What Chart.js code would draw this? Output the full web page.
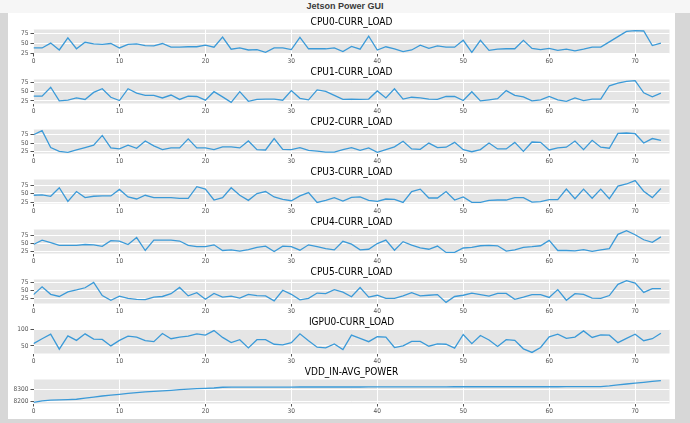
<!DOCTYPE html>
<html><head><meta charset="utf-8">
<script src="https://cdn.jsdelivr.net/npm/chart.js@4.4.1/dist/chart.umd.min.js"></script>
<style>
html,body{margin:0;padding:0;width:690px;height:423px;overflow:hidden;background:#d7d7d7;}
#bar{position:absolute;left:0;top:0;width:690px;height:13px;background:#f6f6f6;font:bold 9px "Liberation Sans Narrow","Liberation Sans",sans-serif;color:#3a3a3a;text-align:center;line-height:13px;}
#panel{position:absolute;left:8px;top:13px;width:667px;height:406px;background:#fff;}
canvas{position:absolute;left:8px;}
</style></head><body>
<div id="bar">Jetson Power GUI</div>
<div id="panel"></div>
<script>
// ---- data (sample index 0..73) ----
const titles = ["CPU0-CURR_LOAD","CPU1-CURR_LOAD","CPU2-CURR_LOAD","CPU3-CURR_LOAD","CPU4-CURR_LOAD","CPU5-CURR_LOAD","IGPU0-CURR_LOAD","VDD_IN-AVG_POWER"];
const cpu0 = [38,38,50,33,63,36,52,48,47,49, 38,47,48,44,43,49,40,40,41,41, 45,40,65,35,38,33,34,27,38,38, 34,64,36,36,36,38,29,42,35,67, 33,41,36,29,33,45,37,43,40,40, 57,27,57,32,35,36,36,57,37,34, 37,32,35,31,35,40,40,53,66,79, 81,80,44,50];
const cpu1 = [38,38,62,25,27,33,29,48,58,35, 26,58,46,40,40,33,41,29,38,37, 27,50,36,21,50,24,29,30,30,27, 53,32,28,55,51,40,29,30,29,30, 52,33,58,30,35,33,30,29,37,37, 26,50,25,28,31,53,40,36,25,28, 37,28,24,33,26,30,30,66,73,78, 80,47,36,46];
const cpu2 = [74,86,37,26,23,30,37,44,72,36, 33,44,35,56,42,31,36,36,62,36, 36,31,39,39,36,56,31,30,63,32, 31,37,29,27,24,24,31,37,29,36, 23,31,39,55,33,32,50,37,38,52, 31,25,31,50,33,33,52,26,53,52, 30,36,38,56,31,58,38,35,78,79, 77,50,63,58];
const cpu3 = [45,46,42,67,27,56,38,42,43,43, 62,40,34,45,38,38,38,36,36,70, 63,31,38,67,45,30,50,56,40,33, 29,43,53,24,30,38,28,39,40,30, 27,34,33,24,56,63,37,37,56,31, 40,24,24,30,31,31,38,38,25,26, 32,32,63,35,63,36,63,35,72,78, 88,57,38,65];
const cpu4 = [46,60,52,43,43,43,46,45,40,58, 57,46,68,27,60,60,60,57,43,39, 39,45,27,29,25,30,37,41,24,41, 39,28,45,39,33,29,56,47,29,31, 49,60,28,55,44,35,31,41,21,21, 35,37,42,43,42,25,29,37,39,42, 59,27,27,26,30,24,29,33,78,90, 77,61,53,70];
const cpu5 = [37,62,38,31,46,52,59,76,34,19, 32,25,22,21,29,31,40,60,33,43, 22,41,29,32,26,38,34,33,17,51, 38,20,25,42,40,53,45,30,60,29, 35,25,25,33,43,33,35,37,12,31, 35,42,37,32,41,41,22,29,37,37, 28,53,19,40,38,26,25,34,70,82, 74,44,56,56];
const igpu0 = [57,72,86,40,81,67,87,71,70,50, 67,80,77,66,63,88,72,77,80,87, 83,97,76,60,69,44,69,69,55,53, 60,87,66,46,44,56,39,83,73,63, 78,77,45,50,64,64,49,56,55,43, 85,57,82,68,48,69,67,41,30,45, 78,86,73,77,96,76,84,83,60,73, 86,66,72,89];
const vddIn = [8193,8205,8212,8214,8216,8219,8228,8237,8246,8253, 8260,8268,8274,8280,8284,8288,8293,8298,8303,8307, 8309,8312,8318,8319,8319,8319,8319,8319,8319,8319, 8319,8320,8320,8320,8320,8320,8320,8320,8320,8321, 8321,8321,8321,8321,8321,8321,8321,8321,8321,8322, 8322,8322,8322,8322,8322,8322,8322,8322,8322,8322, 8322,8322,8323,8323,8323,8323,8324,8330,8338,8345, 8352,8359,8366,8373];
const series = [cpu0,cpu1,cpu2,cpu3,cpu4,cpu5,igpu0,vddIn];
const yStep = [25,25,25,25,25,25,50,100];
const xTickStep = 10;
const xMax = 74;

const FONT = '"Liberation Sans Narrow","DejaVu Sans Condensed","Liberation Sans",sans-serif';
const bgPlugin = {id:'bg', beforeDraw(chart){const {ctx, chartArea:a}=chart; ctx.save(); ctx.fillStyle='#e5e5e5'; ctx.fillRect(a.left,a.top,a.right-a.left,a.bottom-a.top); ctx.restore();}};
function stepTicks(step){
  return function(s){ const t=[]; for(let v=Math.ceil(s.min/step)*step; v<=s.max+1e-9; v+=step) t.push({value:v}); s.ticks=t; };
}

series.forEach((vals, k) => {
  const cv = document.createElement('canvas');
  cv.width = 667; cv.height = 52;
  cv.style.top = (13 + 50*k) + 'px';
  document.body.appendChild(cv);
  const lo = Math.min(...vals), hi = Math.max(...vals), pad = (hi-lo)*0.05;
  new Chart(cv, {
    type: 'line',
    data: { datasets: [{ data: vals.map((v,i)=>({x:i,y:v})), borderColor:'#3b9ad8', borderWidth:1.3, pointRadius:0, tension:0, fill:false }] },
    options: {
      responsive:false, animation:false, devicePixelRatio:1,
      layout:{padding:{left:0,right:5.5,top:0,bottom:0}},
      plugins:{ legend:{display:false}, tooltip:{enabled:false},
        title:{display:true, fullSize:false, text:titles[k], color:'#000', font:{family:FONT,size:10,weight:'normal',lineHeight:1.2}, padding:{top:3,bottom:1.5}} },
      scales:{
        x:{ type:'linear', min:0, max:xMax,
            afterBuildTicks: stepTicks(xTickStep),
            ticks:{color:'#555', font:{family:FONT,size:6.5}, padding:1, maxRotation:0, autoSkip:false, callback:v=>String(v)},
            grid:{color:'#fff', lineWidth:1, tickColor:'#555', tickLength:3},
            border:{display:false},
            afterFit(s){ s.height = 11.5; } },
        y:{ min:lo-pad, max:hi+pad,
            afterBuildTicks: stepTicks(yStep[k]),
            ticks:{color:'#555', font:{family:FONT,size:6.5}, padding:2, autoSkip:false, callback:v=>String(v)},
            grid:{color:'#fff', lineWidth:1, tickColor:'#555', tickLength:3},
            border:{display:false},
            afterFit(s){ s.width = 25.5; } }
      }
    },
    plugins:[bgPlugin]
  });
});
</script>
</body></html>
